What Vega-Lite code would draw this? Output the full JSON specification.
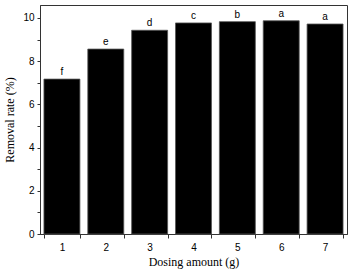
{
  "$schema": "https://vega.github.io/schema/vega-lite/v6.json",
  "width": 307,
  "height": 229,
  "autosize": {"type": "none"},
  "padding": {"left": 40, "top": 5, "right": 11, "bottom": 38},
  "background": "white",
  "config": {
    "view": {"stroke": "#333333", "strokeWidth": 1},
    "axis": {"grid": false, "domainColor": "#333333", "tickColor": "#333333", "labelColor": "#000000", "labelFont": "Liberation Sans", "labelFontSize": 10, "titleFont": "Liberation Serif", "titleFontSize": 12, "titleFontWeight": "normal", "titleColor": "#000000"}
  },
  "data": {
    "values": [
      {"dose": "1", "rate": 7.17, "sig": "f"},
      {"dose": "2", "rate": 8.56, "sig": "e"},
      {"dose": "3", "rate": 9.43, "sig": "d"},
      {"dose": "4", "rate": 9.77, "sig": "c"},
      {"dose": "5", "rate": 9.83, "sig": "b"},
      {"dose": "6", "rate": 9.87, "sig": "a"},
      {"dose": "7", "rate": 9.72, "sig": "a"}
    ]
  },
  "encoding": {
    "x": {
      "field": "dose", "type": "ordinal",
      "scale": {"paddingInner": 0.18, "paddingOuter": 0.09},
      "axis": {"title": "Dosing amount (g)", "labelAngle": 0, "tickBand": "extent", "tickSize": 4, "labelPadding": 4, "titlePadding": 4}
    },
    "y": {
      "field": "rate", "type": "quantitative",
      "scale": {"domain": [0, 10.6], "nice": false},
      "axis": {"title": "Removal rate (%)", "values": [0, 1, 2, 3, 4, 5, 6, 7, 8, 9, 10], "labelExpr": "datum.value % 2 == 0 ? datum.label : ''", "tickSize": 3, "labelPadding": 3, "titlePadding": 6}
    }
  },
  "layer": [
    {"mark": {"type": "bar", "color": "#000000", "stroke": "#555555", "strokeWidth": 0.8}},
    {"mark": {"type": "text", "baseline": "bottom", "dy": -2, "font": "Liberation Sans", "fontSize": 10, "color": "#000000"},
     "encoding": {"text": {"field": "sig"}}}
  ]
}
